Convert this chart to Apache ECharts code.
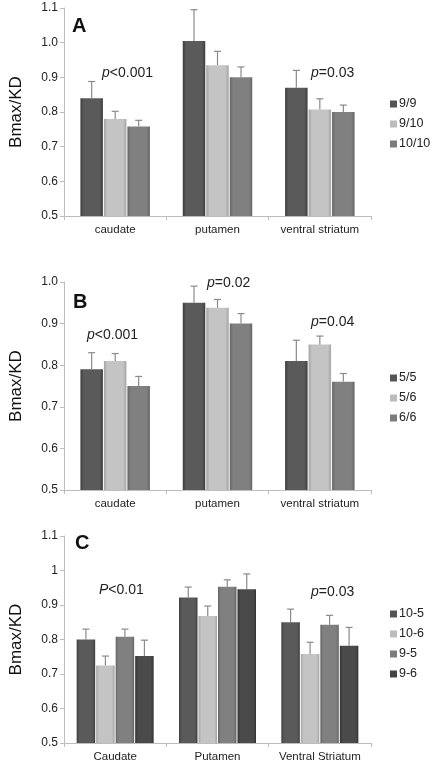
<!DOCTYPE html>
<html><head><meta charset="utf-8">
<script src="https://cdn.jsdelivr.net/npm/echarts@6/dist/echarts.min.js"></script>
<style>html,body{margin:0;padding:0;background:#fff}#c{width:430px;height:764px}</style>
</head><body><div id="c"></div>
<script>
// ---- data ----
const catsAB = ['caudate', 'putamen', 'ventral striatum'];
const catsC = ['Caudate', 'Putamen', 'Ventral Striatum'];

const namesA = ['9/9', '9/10', '10/10'];
const valsA_99 = [0.840, 1.005, 0.870];
const valsA_910 = [0.780, 0.935, 0.807];
const valsA_1010 = [0.758, 0.900, 0.800];
const errA_99 = [0.888, 1.095, 0.920];
const errA_910 = [0.802, 0.975, 0.838];
const errA_1010 = [0.776, 0.930, 0.820];

const namesB = ['5/5', '5/6', '6/6'];
const valsB_55 = [0.790, 0.950, 0.810];
const valsB_56 = [0.810, 0.938, 0.850];
const valsB_66 = [0.750, 0.900, 0.760];
const errB_55 = [0.830, 0.990, 0.860];
const errB_56 = [0.828, 0.958, 0.870];
const errB_66 = [0.773, 0.924, 0.780];

const namesC = ['10-5', '10-6', '9-5', '9-6'];
const valsC_105 = [0.800, 0.922, 0.850];
const valsC_106 = [0.725, 0.868, 0.758];
const valsC_95 = [0.808, 0.953, 0.843];
const valsC_96 = [0.752, 0.946, 0.782];
const errC_105 = [0.830, 0.952, 0.888];
const errC_106 = [0.752, 0.897, 0.792];
const errC_95 = [0.830, 0.973, 0.870];
const errC_96 = [0.798, 0.990, 0.835];

const ticksA = [0.5, 0.6, 0.7, 0.8, 0.9, 1.0, 1.1];
const ticksB = [0.5, 0.6, 0.7, 0.8, 0.9, 1.0];
const ticksC = [0.5, 0.6, 0.7, 0.8, 0.9, 1.0, 1.1];

// ---- style ----
const FONT = '"Liberation Sans", Arial, sans-serif';
function grad(edge, mid) {
  return new echarts.graphic.LinearGradient(0, 0, 1, 0, [
    {offset: 0, color: edge}, {offset: 0.15, color: mid},
    {offset: 0.85, color: mid}, {offset: 1, color: edge}]);
}
const colDark = grad('#3e3e3e', '#5a5a5a');
const colLight = grad('#a4a4a4', '#c4c4c4');
const colMid = grad('#666', '#808080');
const colDarkest = grad('#333', '#4a4a4a');
const legDark = '#555', legLight = '#bcbcbc', legMid = '#7c7c7c', legDarkest = '#444';

const grids = [
  {left: 59, width: 312, top: 8, height: 208},
  {left: 59, width: 312, top: 282, height: 208},
  {left: 59, width: 312, top: 536, height: 207}
];

function yAxis(gi, ticks, fmt) {
  return {
    type: 'value', gridIndex: gi, min: ticks[0], max: ticks[ticks.length - 1], interval: 0.1,
    name: 'Bmax/KD', nameLocation: 'middle', nameGap: 39,
    nameTextStyle: {fontFamily: FONT, fontSize: 17, color: '#111'},
    axisLine: {show: true, lineStyle: {color: '#bdbdbd'}},
    axisTick: {show: true, length: 4, lineStyle: {color: '#bdbdbd'}},
    splitLine: {show: false},
    axisLabel: {fontFamily: FONT, fontSize: 12, color: '#222', margin: 6, formatter: fmt}
  };
}
function xAxis(gi, cats) {
  return {
    type: 'category', gridIndex: gi, data: cats,
    axisLine: {lineStyle: {color: '#bdbdbd'}},
    axisTick: {show: true, length: 4, lineStyle: {color: '#bdbdbd'}},
    axisLabel: {fontFamily: FONT, fontSize: 11.5, color: '#222', margin: 8, interval: 0}
  };
}

const series = [];
function addGroup(gi, names, vals, errs, colors, bw, gap) {
  const n = names.length;
  const total = n * bw + (n - 1) * gap;
  names.forEach((nm, i) => {
    series.push({
      type: 'bar', name: nm, xAxisIndex: gi, yAxisIndex: gi,
      data: vals[i], barWidth: bw, barGap: (gap / bw * 100) + '%',
      itemStyle: {color: colors[i]}, animation: false
    });
  });
  names.forEach((nm, i) => {
    const off = -total / 2 + bw / 2 + i * (bw + gap);
    series.push({
      type: 'custom', name: nm + ' err', xAxisIndex: gi, yAxisIndex: gi,
      data: vals[i].map((v, k) => [k, v, errs[i][k]]), z: 5, animation: false,
      renderItem: function (params, api) {
        const p0 = api.coord([api.value(0), api.value(1)]);
        const p1 = api.coord([api.value(0), api.value(2)]);
        const x = p0[0] + off;
        const st = {stroke: '#8a8a8a', lineWidth: 1.2};
        return {type: 'group', children: [
          {type: 'line', shape: {x1: x, y1: p0[1], x2: x, y2: p1[1]}, style: st},
          {type: 'line', shape: {x1: x - 3.5, y1: p1[1], x2: x + 3.5, y2: p1[1]}, style: st}
        ]};
      }
    });
  });
}
addGroup(0, namesA, [valsA_99, valsA_910, valsA_1010], [errA_99, errA_910, errA_1010],
  [colDark, colLight, colMid], 22.5, 1);
addGroup(1, namesB, [valsB_55, valsB_56, valsB_66], [errB_55, errB_56, errB_66],
  [colDark, colLight, colMid], 22.5, 1);
addGroup(2, namesC, [valsC_105, valsC_106, valsC_95, valsC_96], [errC_105, errC_106, errC_95, errC_96],
  [colDark, colLight, colMid, colDarkest], 18.5, 1);

function legend(names, colors, top) {
  return {
    data: names.map((n, i) => ({name: n, itemStyle: {color: colors[i]}, icon: 'rect'})),
    orient: 'vertical', left: 385, top: top, itemWidth: 7, itemHeight: 7, itemGap: 6,
    textStyle: {fontFamily: FONT, fontSize: 12.5, color: '#222', lineHeight: 14, padding: [0, 0, 0, -3]},
    selectedMode: false
  };
}

function pText(x, y, pre, rest, italic) {
  return {
    type: 'text', left: x, top: y,
    style: {
      rich: {
        i: {fontFamily: FONT, fontSize: 14, fontStyle: italic ? 'italic' : 'normal', fill: '#222'},
        n: {fontFamily: FONT, fontSize: 14, fill: '#222'}
      },
      text: '{i|' + pre + '}{n|' + rest + '}'
    }
  };
}
function letter(x, y, t) {
  return {type: 'text', left: x, top: y,
    style: {text: t, fontFamily: FONT, fontSize: 20, fontWeight: 'bold', fill: '#111'}};
}

const chart = echarts.init(document.getElementById('c'), null, {renderer: 'canvas'});
chart.setOption({
  backgroundColor: '#fff',
  animation: false,
  grid: grids,
  xAxis: [xAxis(0, catsAB), xAxis(1, catsAB), xAxis(2, catsC)],
  yAxis: [
    yAxis(0, ticksA, v => v.toFixed(1)),
    yAxis(1, ticksB, v => v.toFixed(1)),
    yAxis(2, ticksC, v => String(+v.toFixed(2)))
  ],
  legend: [
    legend(namesA, [legDark, legLight, legMid], 92),
    legend(namesB, [legDark, legLight, legMid], 366),
    legend(namesC, [legDark, legLight, legMid, legDarkest], 602)
  ],
  graphic: [
    letter(72, 16, 'A'), letter(73, 292, 'B'), letter(75, 533, 'C'),
    pText(102, 66, 'p', '<0.001', true),
    pText(311, 66, 'p', '=0.03', true),
    pText(87, 328, 'p', '<0.001', true),
    pText(207, 276, 'p', '=0.02', true),
    pText(311, 315, 'p', '=0.04', true),
    pText(99, 583, 'P', '<0.01', true),
    pText(311, 585, 'p', '=0.03', true)
  ],
  series: series
});
</script></body></html>
